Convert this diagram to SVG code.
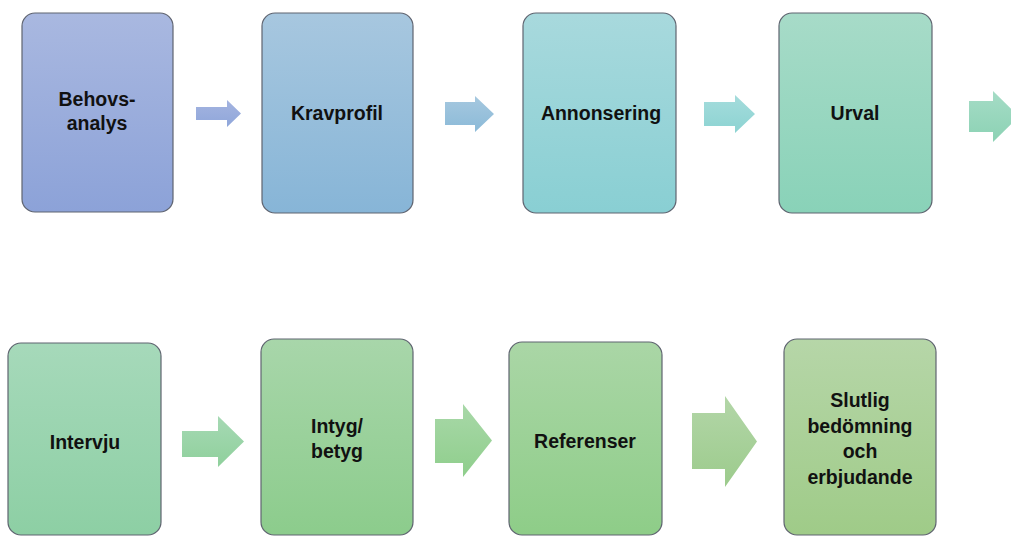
<svg xmlns="http://www.w3.org/2000/svg" width="1011" height="536" viewBox="0 0 1011 536">
<defs>
<linearGradient id="g1" x1="0" y1="0" x2="0" y2="1"><stop offset="0" stop-color="#a9b8e0"/><stop offset="1" stop-color="#8ca2d8"/></linearGradient>
<linearGradient id="g2" x1="0" y1="0" x2="0" y2="1"><stop offset="0" stop-color="#a7c7df"/><stop offset="1" stop-color="#87b5d7"/></linearGradient>
<linearGradient id="g3" x1="0" y1="0" x2="0" y2="1"><stop offset="0" stop-color="#a8d9dd"/><stop offset="1" stop-color="#89cfd3"/></linearGradient>
<linearGradient id="g4" x1="0" y1="0" x2="0" y2="1"><stop offset="0" stop-color="#a7dbc8"/><stop offset="1" stop-color="#89d2b8"/></linearGradient>
<linearGradient id="g5" x1="0" y1="0" x2="0" y2="1"><stop offset="0" stop-color="#a6d9ba"/><stop offset="1" stop-color="#8dcfa4"/></linearGradient>
<linearGradient id="g6" x1="0" y1="0" x2="0" y2="1"><stop offset="0" stop-color="#a8d6aa"/><stop offset="1" stop-color="#8ccc8c"/></linearGradient>
<linearGradient id="g7" x1="0" y1="0" x2="0" y2="1"><stop offset="0" stop-color="#aad6a6"/><stop offset="1" stop-color="#8ecd88"/></linearGradient>
<linearGradient id="g8" x1="0" y1="0" x2="0" y2="1"><stop offset="0" stop-color="#b6d6a8"/><stop offset="1" stop-color="#9fcb88"/></linearGradient>
<linearGradient id="a1" x1="0" y1="0" x2="0" y2="1"><stop offset="0" stop-color="#a4b4e0"/><stop offset="1" stop-color="#8fa6da"/></linearGradient>
<linearGradient id="a2" x1="0" y1="0" x2="0" y2="1"><stop offset="0" stop-color="#a6c8df"/><stop offset="1" stop-color="#8bbad8"/></linearGradient>
<linearGradient id="a3" x1="0" y1="0" x2="0" y2="1"><stop offset="0" stop-color="#a5dcdc"/><stop offset="1" stop-color="#8cd3d2"/></linearGradient>
<linearGradient id="a4" x1="0" y1="0" x2="0" y2="1"><stop offset="0" stop-color="#a5dcc6"/><stop offset="1" stop-color="#8cd2b4"/></linearGradient>
<linearGradient id="a5" x1="0" y1="0" x2="0" y2="1"><stop offset="0" stop-color="#a6d9b4"/><stop offset="1" stop-color="#8fd09c"/></linearGradient>
<linearGradient id="a6" x1="0" y1="0" x2="0" y2="1"><stop offset="0" stop-color="#a8d8a8"/><stop offset="1" stop-color="#8fce8c"/></linearGradient>
<linearGradient id="a7" x1="0" y1="0" x2="0" y2="1"><stop offset="0" stop-color="#b3d6a8"/><stop offset="1" stop-color="#9ccb8c"/></linearGradient>
</defs>
<style>
.box{stroke:#5f6470;stroke-width:1.2}
.t{font-family:"Liberation Sans",Arial,sans-serif;font-weight:bold;font-size:19.5px;fill:#111;text-anchor:middle}
</style>
<rect width="1011" height="536" fill="#ffffff"/>
<g id="connectors">
<path d="M196,107 H227 V100 L241,113.5 L227,127 V120 H196 Z" fill="url(#a1)"/>
<path d="M445,102 H475 V96 L494,114 L475,132 V125 H445 Z" fill="url(#a2)"/>
<path d="M704,102 H735 V95 L755,114 L735,133 V126 H704 Z" fill="url(#a3)"/>
<path d="M969,101 H993 V91 L1019,116.5 L993,142 V132 H969 Z" fill="url(#a4)"/>
<path d="M182,431 H218 V416 L244,441.5 L218,467 V457 H182 Z" fill="url(#a5)"/>
<path d="M435,419 H463 V404 L492,440.5 L463,477 V463 H435 Z" fill="url(#a6)"/>
<path d="M692,413 H725 V396 L757,441.5 L725,487 V469 H692 Z" fill="url(#a7)"/>
</g>
<g id="n1"><rect class="box" x="22" y="13" width="151" height="199" rx="13" fill="url(#g1)"/><text class="t" x="97" y="106">Behovs-</text><text class="t" x="97" y="130">analys</text></g>
<g id="n2"><rect class="box" x="262" y="13" width="151" height="200" rx="13" fill="url(#g2)"/><text class="t" x="337" y="120">Kravprofil</text></g>
<g id="n3"><rect class="box" x="523" y="13" width="153" height="200" rx="13" fill="url(#g3)"/><text class="t" x="601" y="120">Annonsering</text></g>
<g id="n4"><rect class="box" x="779" y="13" width="153" height="200" rx="13" fill="url(#g4)"/><text class="t" x="855" y="120">Urval</text></g>
<g id="n5"><rect class="box" x="8" y="343" width="153" height="192" rx="13" fill="url(#g5)"/><text class="t" x="85" y="449">Intervju</text></g>
<g id="n6"><rect class="box" x="261" y="339" width="152" height="196" rx="13" fill="url(#g6)"/><text class="t" x="337" y="433">Intyg/</text><text class="t" x="337" y="458">betyg</text></g>
<g id="n7"><rect class="box" x="509" y="342" width="153" height="193" rx="13" fill="url(#g7)"/><text class="t" x="585" y="448">Referenser</text></g>
<g id="n8"><rect class="box" x="784" y="339" width="152" height="196" rx="13" fill="url(#g8)"/><text class="t" x="860" y="407">Slutlig</text><text class="t" x="860" y="433">bedömning</text><text class="t" x="860" y="458">och</text><text class="t" x="860" y="484">erbjudande</text></g>
</svg>
